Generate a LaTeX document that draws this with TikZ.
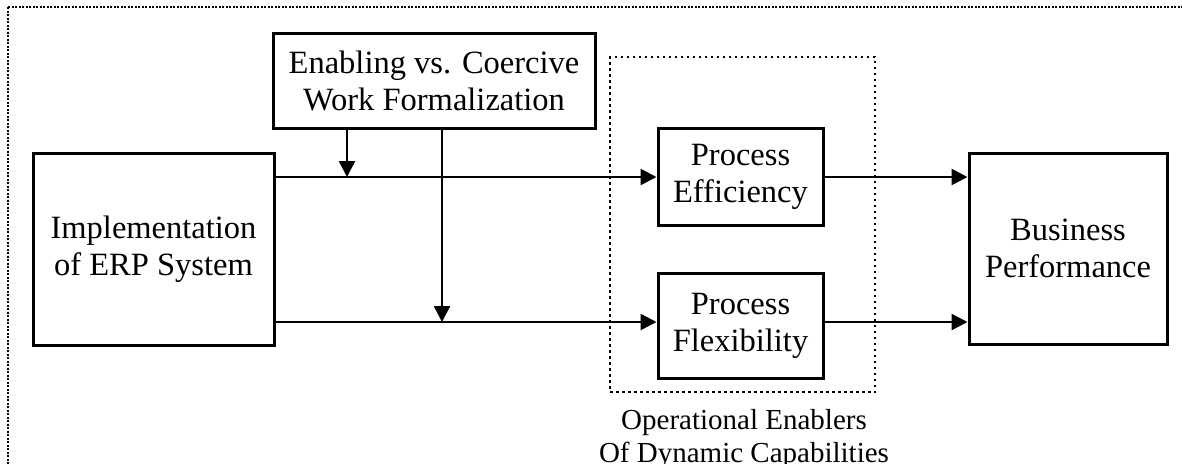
\documentclass[tikz,border=0pt]{standalone}
\usepackage{fontspec}
\setmainfont{Liberation Serif}
\usetikzlibrary{arrows.meta,calc}

\tikzset{
  box/.style={draw, line width=3pt, align=center, inner sep=0pt,
              font=\fontsize{32.5}{37}\selectfont},
  link/.style={line width=2.5pt},
  arr/.style={link, -{Triangle[length=16pt,width=16pt]}},
  outerframe/.style={line width=2pt, dash pattern=on 2pt off 1.5pt},
  groupframe/.style={draw, line width=2.5pt, dash pattern=on 2.5pt off 3.5pt, inner sep=0pt},
  caption/.style={align=center, inner sep=0pt, font=\fontsize{29}{33}\selectfont}
}

\begin{document}
\begin{tikzpicture}[x=1pt, y=-1pt]
  \useasboundingbox (0,0) rectangle (1182,463);
  \clip (0,0) rectangle (1182,463);

  % dotted frame around the whole model
  \draw[outerframe] (8,7) rectangle (1220,520);

  % construct boxes
  \node[box, minimum width=241pt, minimum height=192pt] (erp) at (153.5,249)
    {Implementation\\of ERP System};
  \node[box, minimum width=322pt, minimum height=95pt] (enab) at (434,80.5)
    {Enabling vs. Coercive\\Work Formalization};
  \node[box, minimum width=165pt, minimum height=97pt] (eff) at (740.5,176.5)
    {Process\\Efficiency};
  \node[box, minimum width=165pt, minimum height=105pt] (flex) at (740.5,325.5)
    {Process\\Flexibility};
  \node[box, minimum width=198pt, minimum height=191pt] (bus) at (1068,248.5)
    {Business\\Performance};

  % dotted group of operational enablers
  \node[groupframe, minimum width=265pt, minimum height=335pt] (grp) at (742.5,224.5) {};
  \node[caption, anchor=north] (cap) at ($(grp.south)+(1.5,16)$)
    {Operational Enablers\\Of Dynamic Capabilities};

  % path levels
  \coordinate (top) at (0,177);
  \coordinate (low) at (0,322);
  \coordinate (m1) at (347,0);
  \coordinate (m2) at (442,0);

  % main paths
  \draw[arr] (erp.east |- top) -- (eff.west |- top);
  \draw[arr] (erp.east |- low) -- (flex.west |- low);
  \draw[arr] (eff.east |- top) -- (bus.west |- top);
  \draw[arr] (flex.east |- low) -- (bus.west |- low);

  % moderating effects
  \draw[arr] (enab.south -| m1) -- (m1 |- top);
  \draw[arr] (enab.south -| m2) -- (m2 |- low);
\end{tikzpicture}
\end{document}
